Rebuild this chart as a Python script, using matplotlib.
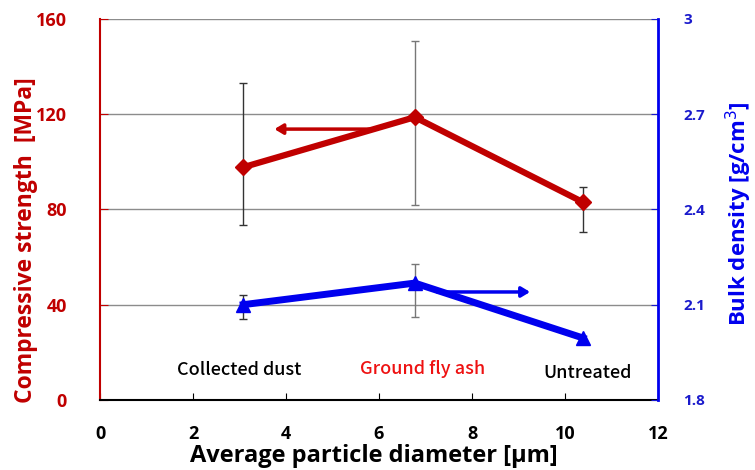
import numpy as np
import matplotlib.pyplot as plt

# data
diameter = [3.08, 6.77, 10.39]
strength = [97.7, 118.7, 83.0]
strength_lo = [24.4, 36.8, 12.3]
strength_hi = [35.3, 32.1, 6.6]
density = [2.10, 2.168, 1.995]
density_lo = [0.045, 0.108, 0.0]
density_hi = [0.029, 0.060, 0.0]
names = ['Collected dust', 'Ground fly ash', 'Untreated']
name_colors = ['black', '#ee1111', 'black']
name_x = [3.0, 6.94, 10.48]
name_y = [12.6, 13.2, 11.3]
red_arrow = [(5.95, 113.7), (3.75, 113.7)]
blue_arrow = [(7.25, 2.14), (9.25, 2.14)]

red = '#c00000'
blue = '#0000ee'
tickfont = 'Open Sans'

fig = plt.figure(figsize=(7.55, 4.7), dpi=100)
ax = fig.add_axes([0.1325, 0.149, 0.739, 0.811])
ax2 = ax.twinx()

ax.set_xlim(0, 12)
ax.set_ylim(0, 160)
ax2.set_ylim(1.8, 3.0)
ax.set_xticks(np.arange(0, 13, 2))
ax.set_yticks(np.arange(0, 161, 40))
ax2.set_yticks([1.8, 2.1, 2.4, 2.7, 3.0])
ax2.set_yticklabels(['1.8', '2.1', '2.4', '2.7', '3'])

for y in [40, 80, 120, 160]:
    ax.axhline(y, color='#8c8c8c', lw=1.0, zorder=0)

# error bars
for i in range(3):
    ec = '#777777' if i == 1 else '#333333'
    ax.errorbar(diameter[i], strength[i], yerr=[[strength_lo[i]], [strength_hi[i]]],
                fmt='none', ecolor=ec, elinewidth=1.0, capsize=3, zorder=2)
    if density_lo[i] > 0:
        ax2.errorbar(diameter[i], density[i], yerr=[[density_lo[i]], [density_hi[i]]],
                     fmt='none', ecolor=ec, elinewidth=1.0, capsize=3, zorder=2)

ax.plot(diameter, strength, color=red, lw=4.5, marker='D', markersize=8, zorder=3)
ax2.plot(diameter, density, color=blue, lw=5, marker='^', markersize=10, zorder=3)

ax.annotate('', xy=red_arrow[1], xytext=red_arrow[0],
            arrowprops=dict(arrowstyle='-|>,head_length=0.5,head_width=0.3', color=red, lw=2.5,
                            shrinkA=0, shrinkB=0))
ax2.annotate('', xy=blue_arrow[1], xytext=blue_arrow[0],
             arrowprops=dict(arrowstyle='-|>,head_length=0.5,head_width=0.3', color=blue, lw=2.5,
                             shrinkA=0, shrinkB=0))

for n, c, x, y in zip(names, name_colors, name_x, name_y):
    ax.text(x, y, n, color=c, fontsize=13, ha='center', va='center', fontweight='medium',
            family=['Noto Sans CJK JP', 'DejaVu Sans'])

# spines
ax.spines['top'].set_visible(False)
ax2.spines['top'].set_visible(False)
ax.spines['left'].set_color(red)
ax.spines['left'].set_linewidth(1.5)
ax2.spines['left'].set_visible(False)
ax.spines['right'].set_visible(False)
ax2.spines['right'].set_color(blue)
ax2.spines['right'].set_linewidth(2)
ax2.spines['bottom'].set_visible(False)
ax.spines['bottom'].set_color('black')
ax.spines['bottom'].set_linewidth(1.5)

ax.tick_params(axis='x', direction='in', length=5, pad=18, labelsize=13, colors='black')
ax.tick_params(axis='y', direction='in', length=6, pad=24, labelsize=13, colors=red)
ax2.tick_params(axis='y', direction='in', length=5, pad=18, labelsize=11, colors='#1a1acc')
for lab in ax.get_xticklabels() + ax.get_yticklabels():
    lab.set_fontweight('bold')
    lab.set_family(tickfont)
for lab in ax2.get_yticklabels():
    lab.set_fontweight('bold')
    lab.set_family(tickfont)

ax.set_xlabel('Average particle diameter [\u03bcm]', fontsize=17, fontweight='bold',
              family=tickfont, labelpad=0)
ax.xaxis.set_label_coords(0.49, -0.115)
ax.set_ylabel('Compressive strength  [MPa]', fontsize=16.5, fontweight='bold',
              family=tickfont, color=red)
ax.yaxis.set_label_coords(-0.112, 0.42)
ax2.set_ylabel('Bulk density [g/cm$^3$]', fontsize=16, fontweight='bold',
               family=tickfont, color=blue)
ax2.yaxis.set_label_coords(1.118, 0.49)

plt.savefig('out.png', dpi=100)
